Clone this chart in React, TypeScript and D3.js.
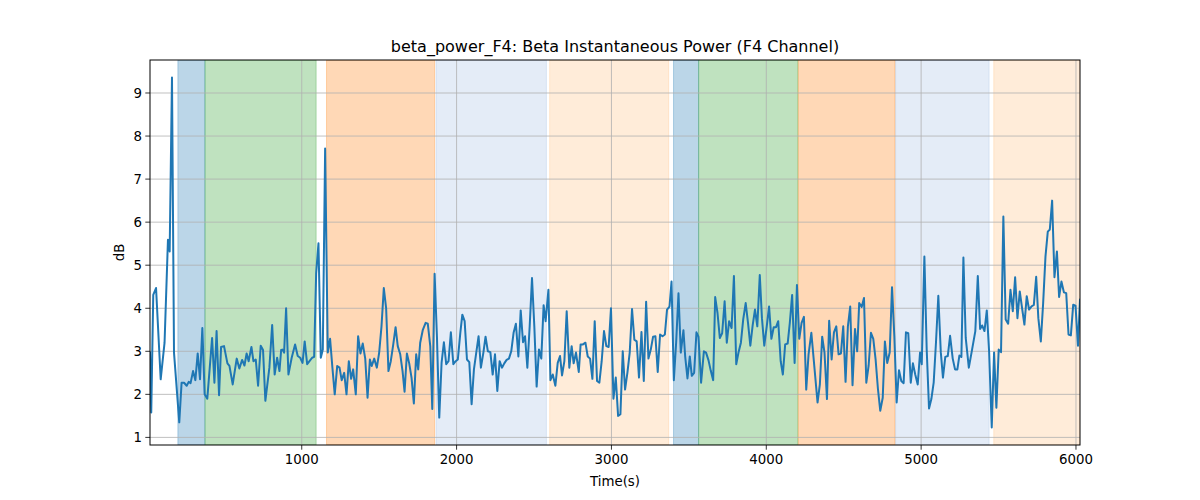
import React from "react";
import * as d3 from "d3";

const times = [
  20, 28, 41, 59, 89, 114, 136, 147, 162, 175, 209, 224, 240, 257, 270, 282, 298, 313, 328, 343,
  358, 373, 390, 405, 421, 436, 450, 466, 479, 498, 520, 533, 554, 580, 597, 615, 630, 644, 657, 675,
  688, 703, 718, 735, 750, 765, 791, 809, 825, 841, 856, 867, 875, 886, 899, 914, 935, 957, 974, 990,
  1005, 1019, 1035, 1050, 1067, 1080, 1093, 1108, 1123, 1136, 1151, 1168, 1183, 1198, 1213, 1229, 1244, 1258, 1274, 1289,
  1304, 1319, 1332, 1349, 1364, 1379, 1394, 1410, 1425, 1440, 1452, 1468, 1485, 1500, 1515, 1530, 1545, 1560, 1575, 1591,
  1606, 1620, 1636, 1651, 1664, 1679, 1694, 1709, 1724, 1739, 1752, 1765, 1782, 1800, 1814, 1830, 1843, 1858, 1873, 1888,
  1903, 1918, 1933, 1948, 1963, 1979, 1994, 2008, 2024, 2037, 2052, 2067, 2082, 2097, 2112, 2127, 2142, 2157, 2173, 2187,
  2202, 2218, 2233, 2248, 2263, 2278, 2293, 2308, 2323, 2338, 2353, 2368, 2383, 2399, 2414, 2429, 2442, 2457, 2472, 2487,
  2502, 2517, 2532, 2547, 2562, 2575, 2593, 2606, 2621, 2638, 2653, 2668, 2681, 2696, 2711, 2728, 2743, 2756, 2771, 2789,
  2801, 2816, 2832, 2847, 2862, 2877, 2892, 2907, 2922, 2937, 2952, 2967, 2982, 2997, 3013, 3028, 3043, 3058, 3073, 3088,
  3103, 3118, 3133, 3148, 3163, 3178, 3194, 3209, 3224, 3239, 3254, 3269, 3284, 3299, 3314, 3330, 3345, 3359, 3375, 3388,
  3403, 3418, 3433, 3448, 3465, 3476, 3491, 3506, 3519, 3534, 3549, 3562, 3579, 3597, 3611, 3627, 3642, 3657, 3670, 3685,
  3700, 3715, 3731, 3745, 3760, 3776, 3791, 3806, 3821, 3836, 3851, 3867, 3882, 3897, 3912, 3927, 3942, 3958, 3972, 3987,
  4003, 4018, 4033, 4048, 4063, 4077, 4093, 4107, 4122, 4138, 4152, 4167, 4183, 4198, 4213, 4228, 4243, 4258, 4273, 4291,
  4331, 4346, 4361, 4376, 4392, 4406, 4422, 4437, 4452, 4467, 4482, 4497, 4512, 4527, 4542, 4557, 4573, 4587, 4600, 4616,
  4631, 4646, 4661, 4676, 4691, 4706, 4721, 4736, 4752, 4766, 4781, 4797, 4812, 4827, 4842, 4857, 4872, 4887, 4902, 4917,
  4933, 4947, 4962, 4978, 4993, 5004, 5021, 5036, 5051, 5066, 5081, 5096, 5111, 5127, 5141, 5156, 5172, 5187, 5204, 5219,
  5234, 5247, 5260, 5273, 5288, 5308, 5329, 5350, 5366, 5381, 5394, 5409, 5424, 5439, 5456, 5471, 5486, 5501, 5516, 5531,
  5546, 5562, 5577, 5592, 5607, 5622, 5637, 5652, 5667, 5682, 5697, 5712, 5728, 5743, 5757, 5773, 5788, 5803, 5818, 5831,
  5846, 5861, 5877, 5891, 5906, 5922, 5937, 5952, 5967, 5982, 5997, 6013, 6026,
];

const values = [
  2.97, 1.58, 4.31, 4.47, 2.35, 3.2, 5.59, 5.32, 9.36, 2.97, 1.35, 2.27, 2.27, 2.2, 2.29, 2.26, 2.54, 2.33, 2.95, 2.35,
  3.54, 2.0, 1.9, 2.58, 3.31, 2.27, 3.47, 1.98, 3.1, 3.12, 2.72, 2.66, 2.23, 2.83, 2.6, 2.8, 2.67, 2.95, 2.77, 3.1,
  2.77, 2.81, 2.2, 3.13, 3.03, 1.85, 2.62, 3.61, 2.46, 2.85, 2.54, 3.03, 3.04, 2.97, 4.0, 2.46, 2.85, 3.16, 2.89, 2.85,
  2.73, 3.23, 2.7, 2.77, 2.85, 2.87, 4.81, 5.51, 2.85, 3.04, 7.71, 2.97, 3.29, 2.62, 2.0, 2.66, 2.62, 2.33, 2.5, 2.0,
  2.77, 2.36, 2.58, 2.0, 3.35, 2.95, 3.18, 2.83, 1.92, 2.81, 2.66, 2.83, 2.62, 2.97, 3.58, 4.47, 4.0, 2.54, 2.77, 3.16,
  3.56, 3.12, 2.93, 2.54, 2.06, 2.95, 2.72, 2.39, 1.79, 2.93, 2.58, 3.2, 3.5, 3.66, 3.64, 3.12, 1.66, 4.8, 3.35, 1.46,
  2.73, 3.21, 2.7, 2.77, 3.44, 2.7, 2.77, 2.81, 3.43, 3.85, 3.7, 2.81, 2.75, 1.77, 2.58, 2.97, 3.35, 2.62, 2.97, 3.34,
  3.0, 2.98, 2.46, 2.93, 2.08, 2.77, 2.62, 2.72, 2.8, 2.83, 3.0, 3.43, 3.64, 2.88, 3.95, 3.21, 3.35, 2.62, 3.58, 4.7,
  3.58, 2.18, 3.04, 2.83, 4.07, 3.7, 4.43, 2.33, 2.46, 2.2, 2.73, 2.89, 2.44, 2.77, 3.93, 2.62, 3.12, 2.72, 2.97, 2.52,
  3.16, 3.16, 3.2, 2.88, 2.83, 2.36, 3.7, 2.31, 2.27, 2.77, 3.47, 3.12, 3.1, 4.0, 1.9, 2.39, 1.5, 1.54, 3.0, 2.11,
  2.5, 2.97, 3.98, 3.27, 3.23, 2.39, 3.45, 2.31, 4.15, 2.83, 3.04, 3.34, 3.35, 2.52, 3.39, 3.35, 3.39, 3.97, 4.04, 4.62,
  2.33, 3.21, 4.35, 2.97, 3.49, 2.89, 2.37, 2.88, 2.43, 2.5, 3.44, 3.34, 2.27, 3.0, 2.97, 2.79, 2.54, 2.33, 4.26, 3.89,
  3.31, 3.42, 4.16, 3.2, 3.7, 3.54, 4.75, 2.7, 2.98, 3.2, 3.74, 4.12, 3.66, 3.13, 3.6, 3.97, 3.58, 4.77, 3.77, 3.13,
  3.58, 4.04, 3.29, 3.56, 3.56, 3.7, 2.77, 2.46, 3.16, 3.18, 3.66, 4.31, 2.73, 4.54, 3.29, 3.66, 3.8, 2.11, 2.93, 3.43,
  1.81, 2.23, 3.34, 2.97, 1.89, 3.71, 2.81, 3.44, 3.58, 2.93, 2.95, 3.58, 2.29, 3.58, 4.04, 2.21, 3.52, 3.0, 4.12, 4.03,
  4.24, 2.27, 2.67, 3.43, 3.29, 2.81, 2.13, 1.62, 1.92, 3.23, 2.73, 2.97, 4.49, 3.35, 1.81, 2.56, 2.31, 2.26, 3.44, 3.42,
  2.27, 2.72, 2.46, 2.23, 2.97, 2.7, 5.2, 3.04, 1.67, 1.89, 2.27, 3.21, 4.29, 2.98, 2.39, 2.87, 2.89, 3.36, 2.83, 2.58,
  2.58, 2.9, 2.87, 5.18, 3.31, 2.62, 3.04, 3.47, 4.75, 3.52, 3.6, 3.47, 3.95, 3.0, 1.23, 2.97, 1.69, 3.04, 2.98, 6.13,
  3.74, 3.64, 4.43, 3.93, 4.72, 3.77, 4.39, 4.0, 3.62, 4.28, 3.97, 4.04, 4.08, 4.73, 3.77, 3.23, 4.12, 5.2, 5.78, 5.83,
  6.5, 4.72, 5.32, 4.26, 4.62, 4.37, 4.35, 3.39, 3.37, 4.08, 4.06, 3.13, 4.2,
];

const spanStarts = [200, 375, 1160, 1867, 2601, 3401, 3563, 4206, 4835, 5469];
const spanEnds = [375, 1093, 1858, 2580, 3370, 3563, 4204, 4831, 5439, 6026];
const spanKinds = [0, 1, 2, 3, 4, 0, 1, 2, 3, 4];
const kindColors = ["#1f77b4", "#2ca02c", "#ff7f0e", "#4a82c8", "#ff9f40"];
const kindAlpha = [0.3, 0.3, 0.3, 0.15, 0.2];

const xTicks = [1000, 2000, 3000, 4000, 5000, 6000];
const yTicks = [1, 2, 3, 4, 5, 6, 7, 8, 9];

const W = 1200;
const H = 500;
const M = { left: 150, right: 1080, top: 60, bottom: 445 };
const FONT = "DejaVu Sans, sans-serif";

export default function App() {
  const x = d3
    .scaleLinear()
    .domain(d3.extent(times) as [number, number])
    .range([M.left, M.right]);
  const [vmin, vmax] = d3.extent(values) as [number, number];
  const pad = (vmax - vmin) * 0.05;
  const y = d3
    .scaleLinear()
    .domain([vmin - pad, vmax + pad])
    .range([M.bottom, M.top]);

  const pts = times.map((t, i) => [t, values[i]] as [number, number]);
  const line = d3
    .line<[number, number]>()
    .x((d) => x(d[0]))
    .y((d) => y(d[1]));

  return (
    <div style={{ position: "fixed", left: 0, top: 0 }}>
      <svg width={W} height={H} style={{ display: "block", background: "#fff" }}>
        <defs>
          <clipPath id="plot">
            <rect x={M.left} y={M.top} width={M.right - M.left} height={M.bottom - M.top} />
          </clipPath>
        </defs>
        <g clipPath="url(#plot)">
          {spanStarts.map((s, i) => {
            const k = spanKinds[i];
            const x0 = x(s);
            const x1 = x(spanEnds[i]);
            return (
              <rect
                key={i}
                x={x0}
                y={M.top}
                width={x1 - x0}
                height={M.bottom - M.top}
                fill={kindColors[k]}
                fillOpacity={kindAlpha[k]}
                stroke={kindColors[k]}
                strokeOpacity={kindAlpha[k]}
                strokeWidth={1}
              />
            );
          })}
          {xTicks.map((t) => (
            <line key={"gx" + t} x1={x(t)} x2={x(t)} y1={M.top} y2={M.bottom} stroke="#b0b0b0" strokeWidth={0.8} />
          ))}
          {yTicks.map((t) => (
            <line key={"gy" + t} x1={M.left} x2={M.right} y1={y(t)} y2={y(t)} stroke="#b0b0b0" strokeWidth={0.8} />
          ))}
          <path d={line(pts) || ""} fill="none" stroke="#1f77b4" strokeWidth={2} strokeLinejoin="round" strokeLinecap="square" />
        </g>
        <rect
          x={M.left}
          y={M.top}
          width={M.right - M.left}
          height={M.bottom - M.top}
          fill="none"
          stroke="#000"
          strokeWidth={1}
        />
        {xTicks.map((t) => (
          <g key={"tx" + t}>
            <line x1={x(t)} x2={x(t)} y1={M.bottom} y2={M.bottom + 4.7} stroke="#000" strokeWidth={0.8} />
            <text x={x(t)} y={M.bottom + 19} textAnchor="middle" fontFamily={FONT} fontSize={13.33} fill="#000">
              {t}
            </text>
          </g>
        ))}
        {yTicks.map((t) => (
          <g key={"ty" + t}>
            <line x1={M.left - 4.7} x2={M.left} y1={y(t)} y2={y(t)} stroke="#000" strokeWidth={0.8} />
            <text
              x={M.left - 8}
              y={y(t)}
              dy="0.36em"
              textAnchor="end"
              fontFamily={FONT}
              fontSize={13.33}
              fill="#000"
            >
              {t}
            </text>
          </g>
        ))}
        <text x={(M.left + M.right) / 2} y={486} textAnchor="middle" fontFamily={FONT} fontSize={13.33} fill="#000">
          Time(s)
        </text>
        <text
          transform={`translate(124, ${(M.top + M.bottom) / 2}) rotate(-90)`}
          textAnchor="middle"
          fontFamily={FONT}
          fontSize={13.33}
          fill="#000"
        >
          dB
        </text>
        <text x={(M.left + M.right) / 2} y={52} textAnchor="middle" fontFamily={FONT} fontSize={16} fill="#000">
          beta_power_F4: Beta Instantaneous Power (F4 Channel)
        </text>
      </svg>
    </div>
  );
}
